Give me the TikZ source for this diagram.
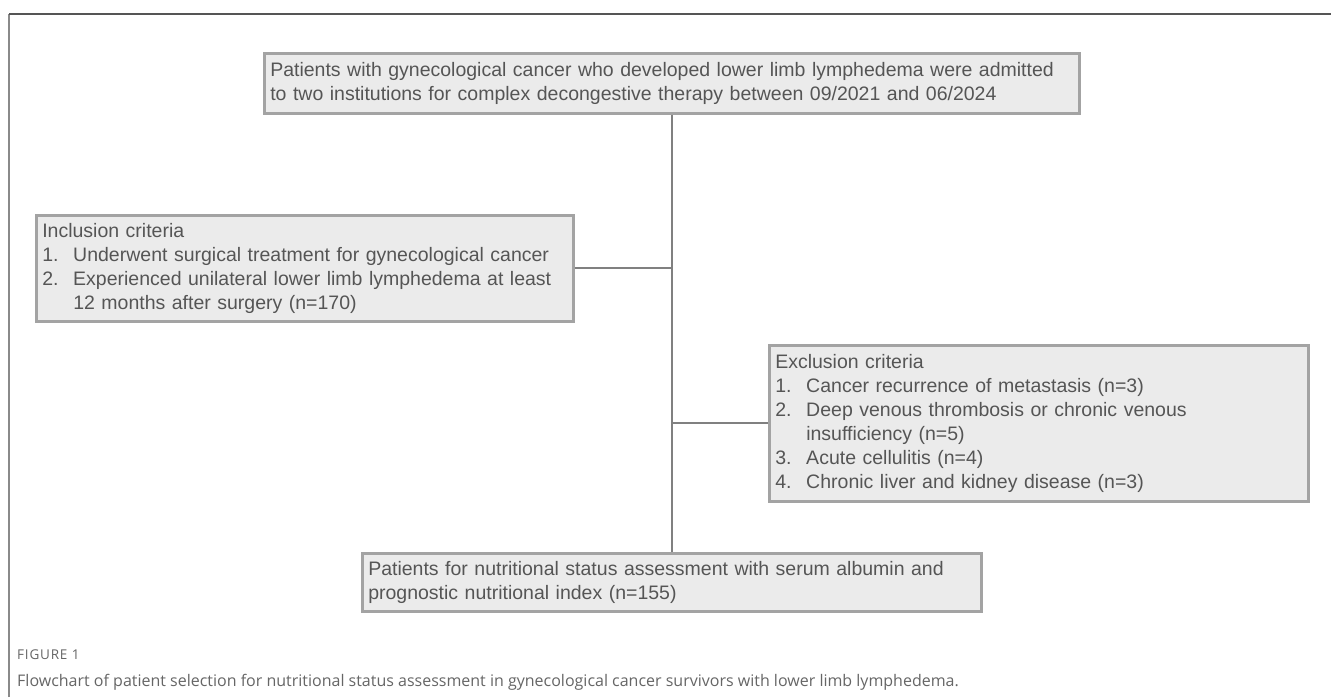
\documentclass[tikz,border=0pt]{standalone}
\usepackage{fontspec}
\setmainfont{Liberation Sans}
\newfontfamily\capfont{Open Sans}
\newfontfamily\figfont[LetterSpace=6]{Open Sans}
\usetikzlibrary{shadows}
\definecolor{boxfill}{HTML}{EBEBEB}
\definecolor{boxdraw}{HTML}{A3A3A3}
\definecolor{txtgray}{HTML}{555555}
\definecolor{conngray}{HTML}{808080}
\definecolor{framegray}{HTML}{555555}
\definecolor{frameleft}{HTML}{8A8A8A}
\definecolor{capgray}{HTML}{666666}
\newcommand{\itm}[1]{\makebox[31pt][l]{#1}}
\begin{document}
\begin{tikzpicture}[x=1pt,y=-1pt,
  box/.style={draw=boxdraw, line width=2.5pt, fill=boxfill, anchor=north west,
    align=left, inner xsep=6pt, inner ysep=3pt, text=txtgray,
    drop shadow={shadow xshift=0.8pt, shadow yshift=-1.2pt, fill=black, opacity=0.12},
    font=\fontsize{19.5}{24}\selectfont},
  conn/.style={draw=conngray, line width=2.3pt},
  capt/.style={anchor=west, inner sep=0pt, text=capgray}]
\useasboundingbox (0,0) rectangle (1331,697);
\fill[white] (0,0) rectangle (1331,697);
% frame
\coordinate (fbl) at (9,697);
\coordinate (ftl) at (9,14);
\coordinate (ftr) at (1331,14);
\draw[draw=frameleft, line width=1.8pt] (fbl) -- (ftl);
\draw[draw=framegray, line width=1.8pt] (ftl) -- (ftr);
% boxes
\node[box, text width=803pt, minimum height=60pt] (top) at (263,52)
  {Patients with gynecological cancer who developed lower limb lymphedema were admitted\\
   to two institutions for complex decongestive therapy between 09/2021 and 06/2024};
\node[box, text width=525pt, minimum height=106pt] (inc) at (35,214)
  {Inclusion criteria\\
   \itm{1.}Underwent surgical treatment for gynecological cancer\\
   \itm{2.}Experienced unilateral lower limb lymphedema at least\\
   \itm{}12 months after surgery (n=170)};
\node[box, text width=527pt, minimum height=156pt] (exc) at (768,344)
  {Exclusion criteria\\
   \itm{1.}Cancer recurrence of metastasis (n=3)\\
   \itm{2.}Deep venous thrombosis or chronic venous\\
   \itm{}insufficiency (n=5)\\
   \itm{3.}Acute cellulitis (n=4)\\
   \itm{4.}Chronic liver and kidney disease (n=3)};
\node[box, text width=607pt, minimum height=58pt] (bot) at (361,552)
  {Patients for nutritional status assessment with serum albumin and\\
   prognostic nutritional index (n=155)};
% connectors
\coordinate (j1) at (top.south |- inc.east);
\coordinate (j2) at (top.south |- exc.west);
\draw[conn] (top.south) -- (bot.north);
\draw[conn] (inc.east) -- (j1);
\draw[conn] (j2) -- (exc.west);
% caption
\node[capt, font=\figfont\fontsize{13.5}{16}\selectfont] (fig) at (17,655) {FIGURE 1};
\node[capt, font=\capfont\fontsize{16}{19}\selectfont] (cap) at (17,682)
  {Flowchart of patient selection for nutritional status assessment in gynecological cancer survivors with lower limb lymphedema.};
\end{tikzpicture}
\end{document}
